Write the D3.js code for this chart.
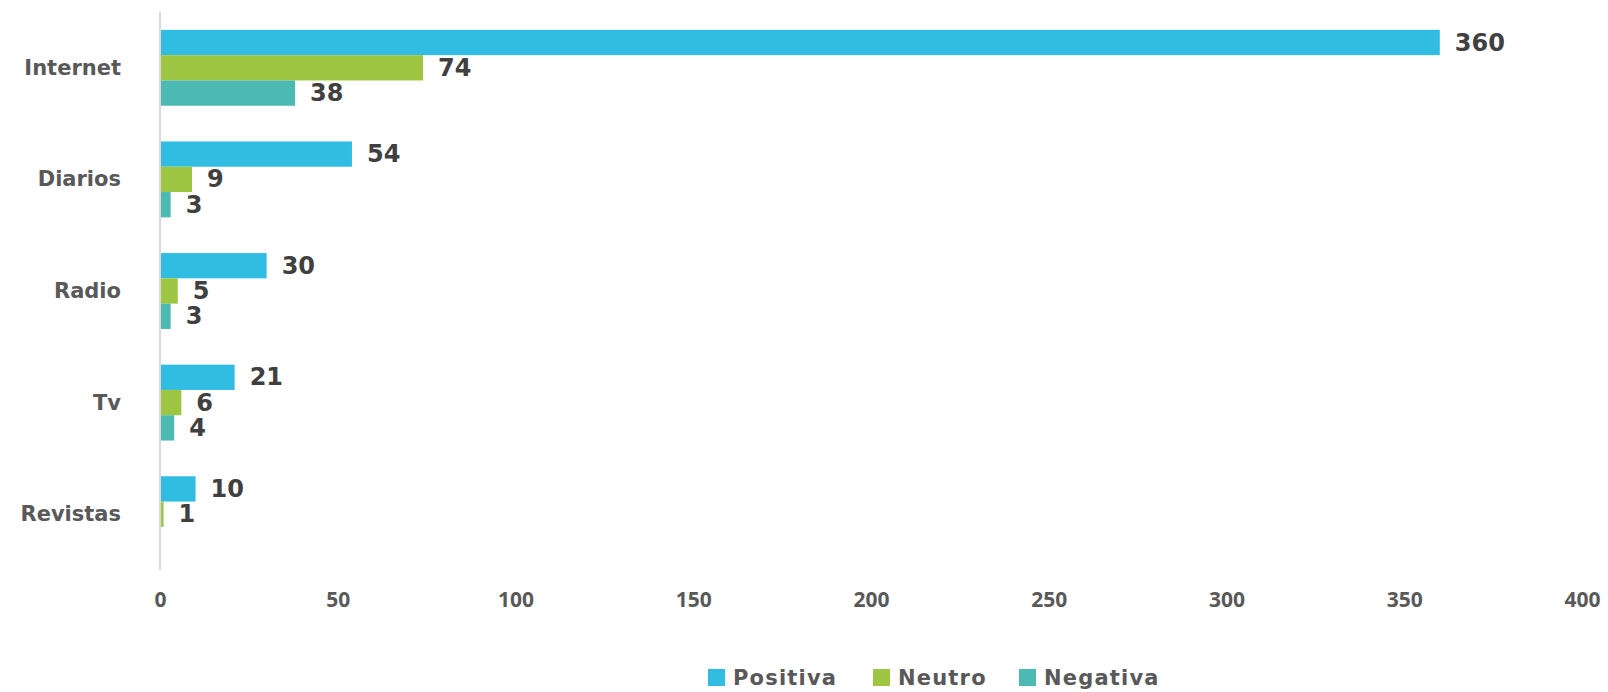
<!DOCTYPE html>
<html><head><meta charset="utf-8">
<script src="https://cdn.jsdelivr.net/npm/d3@7"></script>
<style>body{margin:0;background:#fff}svg{display:block}</style>
</head><body>
<svg id="c" width="1608" height="692"></svg>
<script>
const categories = ["Internet","Diarios","Radio","Tv","Revistas"];
const seriesNames = ["Positiva","Neutro","Negativa"];
const positiva = [360,54,30,21,10];
const neutro = [74,9,5,6,1];
const negativa = [38,3,3,4,null];
const xTicks = [0,50,100,150,200,250,300,350,400];
const colors = ["#31BDE1","#9FC642","#4DB9B3"];

const series = [positiva, neutro, negativa];
const svg = d3.select("#c");
const x = d3.scaleLinear().domain([0,400]).range([160,1582]);
const y = d3.scaleBand().domain(categories).range([12,570]).paddingInner(0.32).paddingOuter(0.16);
const ys = d3.scaleBand().domain(seriesNames).range([0,y.bandwidth()]);
const labelFont = "'DejaVu Sans', sans-serif";

// axis line
svg.append("line").attr("x1",x(0)).attr("x2",x(0)).attr("y1",12).attr("y2",570)
  .attr("stroke","#d9d9d9").attr("stroke-width",2);

// bars
seriesNames.forEach((s,si)=>{
  const g = svg.append("g");
  categories.forEach((c,ci)=>{
    const v = series[si][ci];
    if (v==null) return;
    g.append("rect").attr("x",x(0)+1).attr("y",y(c)+ys(s))
      .attr("width",x(v)-x(0)-1).attr("height",ys.bandwidth())
      .attr("fill",colors[si]);
    g.append("text").attr("x",x(v)+15).attr("y",y(c)+ys(s)+ys.bandwidth()/2)
      .attr("dominant-baseline","central")
      .attr("font-family",labelFont).attr("font-weight",700).attr("font-size",24)
      .attr("fill","#404040").text(v);
  });
});

// category labels
categories.forEach(c=>{
  svg.append("text").attr("x",121).attr("y",y(c)+y.bandwidth()/2)
    .attr("text-anchor","end").attr("dominant-baseline","central")
    .attr("font-family",labelFont).attr("font-weight",700).attr("font-size",21)
    .attr("fill","#595959").text(c);
});

// x axis tick labels
const xa = svg.append("g").attr("transform","translate(0,580)")
  .call(d3.axisBottom(x).tickValues(xTicks).tickSize(0).tickPadding(12));
xa.select(".domain").remove();
xa.selectAll("text").attr("font-family","'Open Sans', sans-serif").attr("font-weight",700)
  .attr("font-size",21).attr("fill","#595959");

// legend
const legendX = [708,873,1019];
seriesNames.forEach((s,i)=>{
  svg.append("rect").attr("x",legendX[i]).attr("y",669).attr("width",17).attr("height",17).attr("fill",colors[i]);
  svg.append("text").attr("x",legendX[i]+25).attr("y",678).attr("dominant-baseline","central")
    .attr("font-family",labelFont).attr("font-weight",700).attr("font-size",21)
    .attr("letter-spacing",1.2).attr("fill","#595959").text(s);
});
</script>
</body></html>
